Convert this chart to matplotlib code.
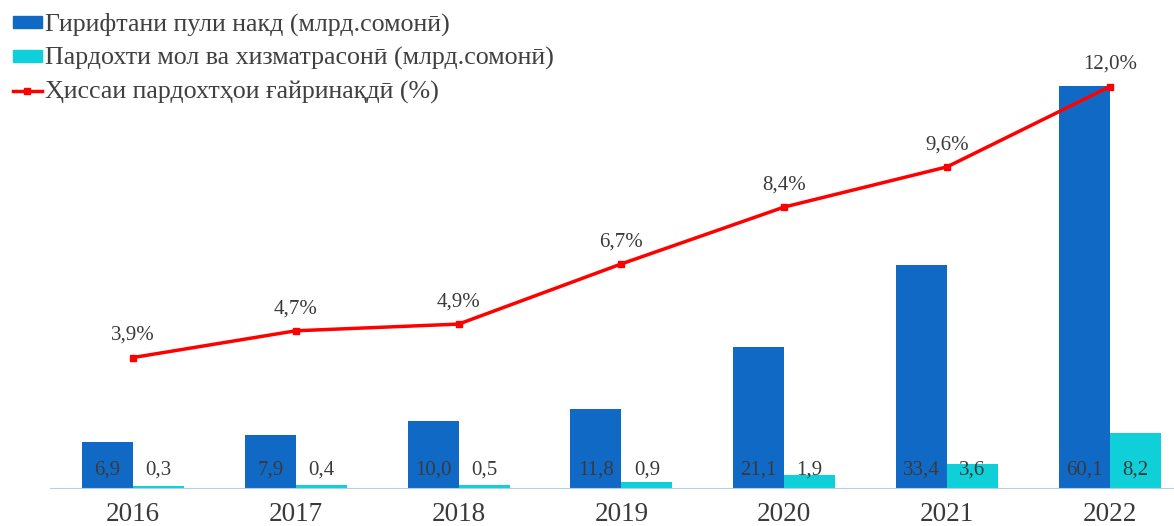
import numpy as np
from matplotlib import pyplot as plt
from matplotlib.lines import Line2D
from matplotlib.patches import Patch

plt.rcParams['font.family'] = ['Liberation Serif', 'DejaVu Serif']

years = ['2016', '2017', '2018', '2019', '2020', '2021', '2022']
cash = [6.9, 7.9, 10.0, 11.8, 21.1, 33.4, 60.1]
payments = [0.3, 0.4, 0.5, 0.9, 1.9, 3.6, 8.2]
share = [3.9, 4.7, 4.9, 6.7, 8.4, 9.6, 12.0]

blue = '#1169c6'
cyan = '#0fd0d8'
red = '#ff0000'
txt = '#3a3a3a'

fig = plt.figure(figsize=(11.74, 5.26), dpi=100)
ax = fig.add_axes([0.0, 38 / 526, 1.0, 478 / 526])
ax2 = ax.twinx()
ax.set_zorder(1)
ax2.set_zorder(2)
ax.patch.set_visible(False)

x = np.arange(len(years))
w = 0.313
ax.bar(x - w / 2, cash, w, color=blue)
ax.bar(x + w / 2, payments, w, color=cyan)

for i in range(len(x)):
    ax.annotate(f'{cash[i]:.1f}'.replace('.', ','), (x[i] - w / 2, 0), xytext=(0, 13),
                textcoords='offset points', ha='center', va='center', fontsize=15, color=txt)
    ax.annotate(f'{payments[i]:.1f}'.replace('.', ','), (x[i] + w / 2, 0), xytext=(0, 13),
                textcoords='offset points', ha='center', va='center', fontsize=15, color=txt)

ax2.plot(x, share, color=red, lw=2.5, marker='s', ms=5)
for i in range(len(x)):
    ax2.annotate(f'{share[i]:.1f}%'.replace('.', ','), (x[i], share[i]), xytext=(0, 16),
                 textcoords='offset points', ha='center', va='center', fontsize=15, color=txt)

# group centres at 133 px, 162.8 px apart
step = 162.8
ax.set_xlim(-133 / step, (1174 - 133) / step)
ax.set_ylim(0, 71.45)
ax2.set_ylim(0, 14.29)

ax.set_xticks(x)
ax.set_xticklabels(years, fontsize=19.5, color=txt)
ax.tick_params(axis='x', length=0, pad=10)
ax.set_yticks([])
ax2.set_yticks([])
for s in ['top', 'left', 'right']:
    ax.spines[s].set_visible(False)
    ax2.spines[s].set_visible(False)
ax2.spines['bottom'].set_visible(False)
ax.spines['bottom'].set_color('#b8cfe0')
ax.spines['bottom'].set_bounds((50 - 133) / step, (1174 - 133) / step)

handles = [Patch(color=blue), Patch(color=cyan),
           Line2D([], [], color=red, lw=2.5, marker='s', ms=4)]
labels = ['Гирифтани пули накд (млрд.сомонӣ)',
          'Пардохти мол ва хизматрасонӣ (млрд.сомонӣ)',
          'Ҳиссаи пардохтҳои ғайринақдӣ (%)']
leg = fig.legend(handles, labels, loc='upper left', bbox_to_anchor=(0.0, 1.0),
                 frameon=False, fontsize=18.7, handlelength=1.1, handleheight=0.35,
                 handletextpad=0.12, labelspacing=0.42, borderaxespad=0.2,
                 borderpad=0.3)
for t in leg.get_texts():
    t.set_color('#404040')

fig.savefig('out.png', dpi=100)
